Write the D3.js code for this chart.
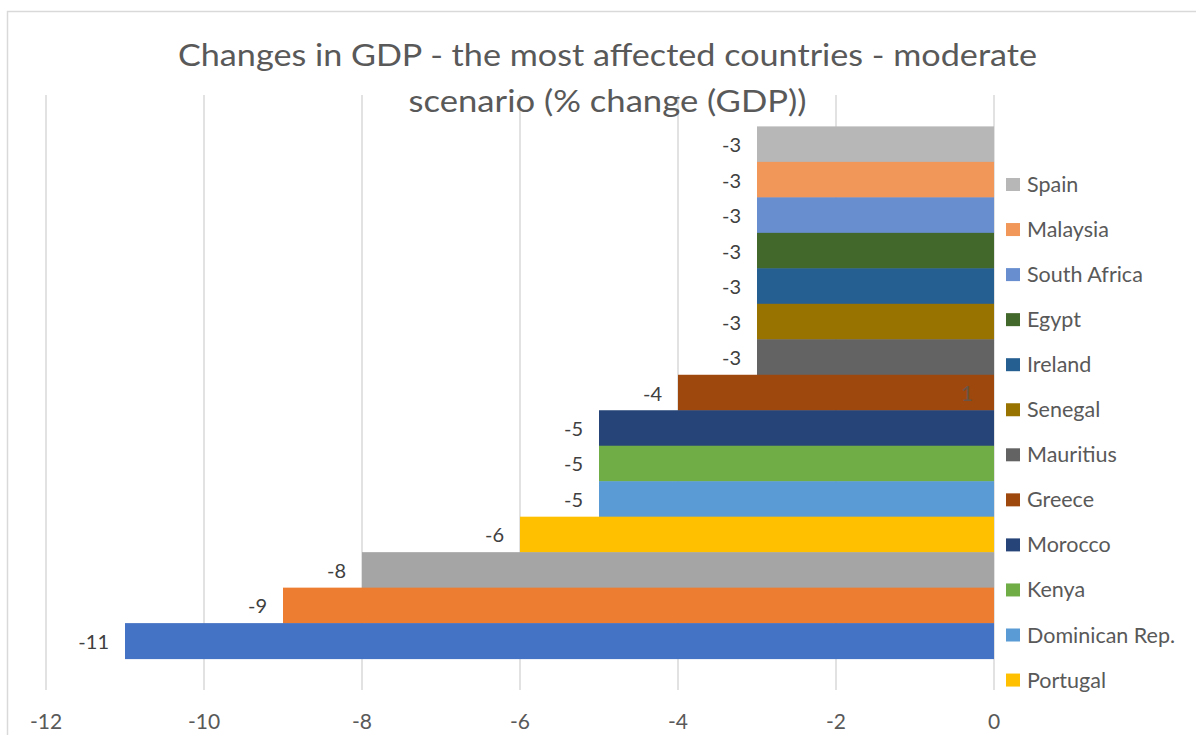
<!DOCTYPE html>
<html>
<head>
<meta charset="utf-8">
<script src="https://cdn.jsdelivr.net/npm/d3@7/dist/d3.min.js"></script>
<style>
  html, body { margin: 0; padding: 0; background: #fff; overflow: hidden; }
  svg { display: block; }
</style>
</head>
<body>
<svg id="chart" width="1196" height="735"></svg>
<script>
// ---- data (top to bottom as drawn) ----
const countries = ["Spain", "Malaysia", "South Africa", "Egypt", "Ireland", "Senegal", "Mauritius",
  "Greece", "Morocco", "Kenya", "Dominican Rep.", "Portugal", "Series 3", "Series 2", "Series 1"];
const values = [-3, -3, -3, -3, -3, -3, -3, -4, -5, -5, -5, -6, -8, -9, -11];
const colors = ["#b7b7b7", "#f1975a", "#698ed0", "#43682b", "#255e91", "#997300", "#636363",
  "#9e480e", "#264478", "#70ad47", "#5b9bd5", "#ffc000", "#a5a5a5", "#ed7d31", "#4472c4"];
const legendCount = 12; // legend is truncated in the original; only first 12 entries visible
const xTicks = [-12, -10, -8, -6, -4, -2, 0];
const titleLines = ["Changes in GDP - the most affected countries - moderate", "scenario (% change (GDP))"];
const titleWidths = [859, 398];

const FONT = "Lato, 'Open Sans', sans-serif";
const svg = d3.select("#chart");

// chart border (extends past the cropped edges)
svg.append("rect").attr("x", 7.5).attr("y", 11.5).attr("width", 1300).attr("height", 900)
  .attr("fill", "#fff").attr("stroke", "#d9d9d9").attr("stroke-width", 1.5);

const x = d3.scaleLinear().domain([-12, 0]).range([46, 994]);
const y = d3.scaleBand().domain(countries).range([95, 690]).paddingInner(0).paddingOuter(0.885);

// gridlines
svg.append("g").selectAll("line").data(xTicks).join("line")
  .attr("x1", d => x(d)).attr("x2", d => x(d))
  .attr("y1", 95).attr("y2", 690)
  .attr("stroke", "#d9d9d9").attr("stroke-width", 1.5);

// title
svg.append("g").selectAll("text").data(titleLines).join("text")
  .attr("x", (d, i) => 607.5 - titleWidths[i] / 2).attr("y", (d, i) => 66 + i * 46)
  .attr("textLength", (d, i) => titleWidths[i])
  .attr("lengthAdjust", "spacingAndGlyphs")
  .attr("font-family", FONT).attr("font-size", 30).attr("fill", "#595959")
  .text(d => d);

// bars
svg.append("g").selectAll("rect").data(countries).join("rect")
  .attr("x", (d, i) => x(values[i]))
  .attr("y", d => y(d))
  .attr("width", (d, i) => x(0) - x(values[i]))
  .attr("height", y.bandwidth() + 0.5)
  .attr("fill", (d, i) => colors[i]);

// data labels
svg.append("g").selectAll("text").data(countries).join("text")
  .attr("x", (d, i) => x(values[i]) - 16)
  .attr("y", d => y(d) + y.bandwidth() / 2 + 8)
  .attr("text-anchor", "end")
  .attr("font-family", FONT).attr("font-size", 20).attr("fill", "#404040")
  .text((d, i) => values[i]);

// stray "1" label inside Greece bar (as in original)
svg.append("text")
  .attr("x", x(-0.34)).attr("y", y("Greece") + y.bandwidth() / 2 + 8)
  .attr("text-anchor", "middle")
  .attr("font-family", FONT).attr("font-size", 21).attr("fill", "#595959").attr("opacity", 0.75)
  .text("1");

// x axis tick labels
svg.append("g").selectAll("text").data(xTicks).join("text")
  .attr("x", d => x(d)).attr("y", 729)
  .attr("text-anchor", "middle")
  .attr("font-family", FONT).attr("font-size", 21).attr("fill", "#595959")
  .text(d => d);

// legend
const legend = svg.append("g").selectAll("g").data(countries.slice(0, legendCount)).join("g")
  .attr("transform", (d, i) => `translate(1006, ${184.5 + i * 45.05})`);
legend.append("rect").attr("x", 0).attr("y", -6.5).attr("width", 14).attr("height", 13)
  .attr("fill", (d, i) => colors[i]);
legend.append("text").attr("x", 21).attr("y", 7.5)
  .attr("font-family", FONT).attr("font-size", 21.5).attr("fill", "#595959")
  .text(d => d);
</script>
</body>
</html>
